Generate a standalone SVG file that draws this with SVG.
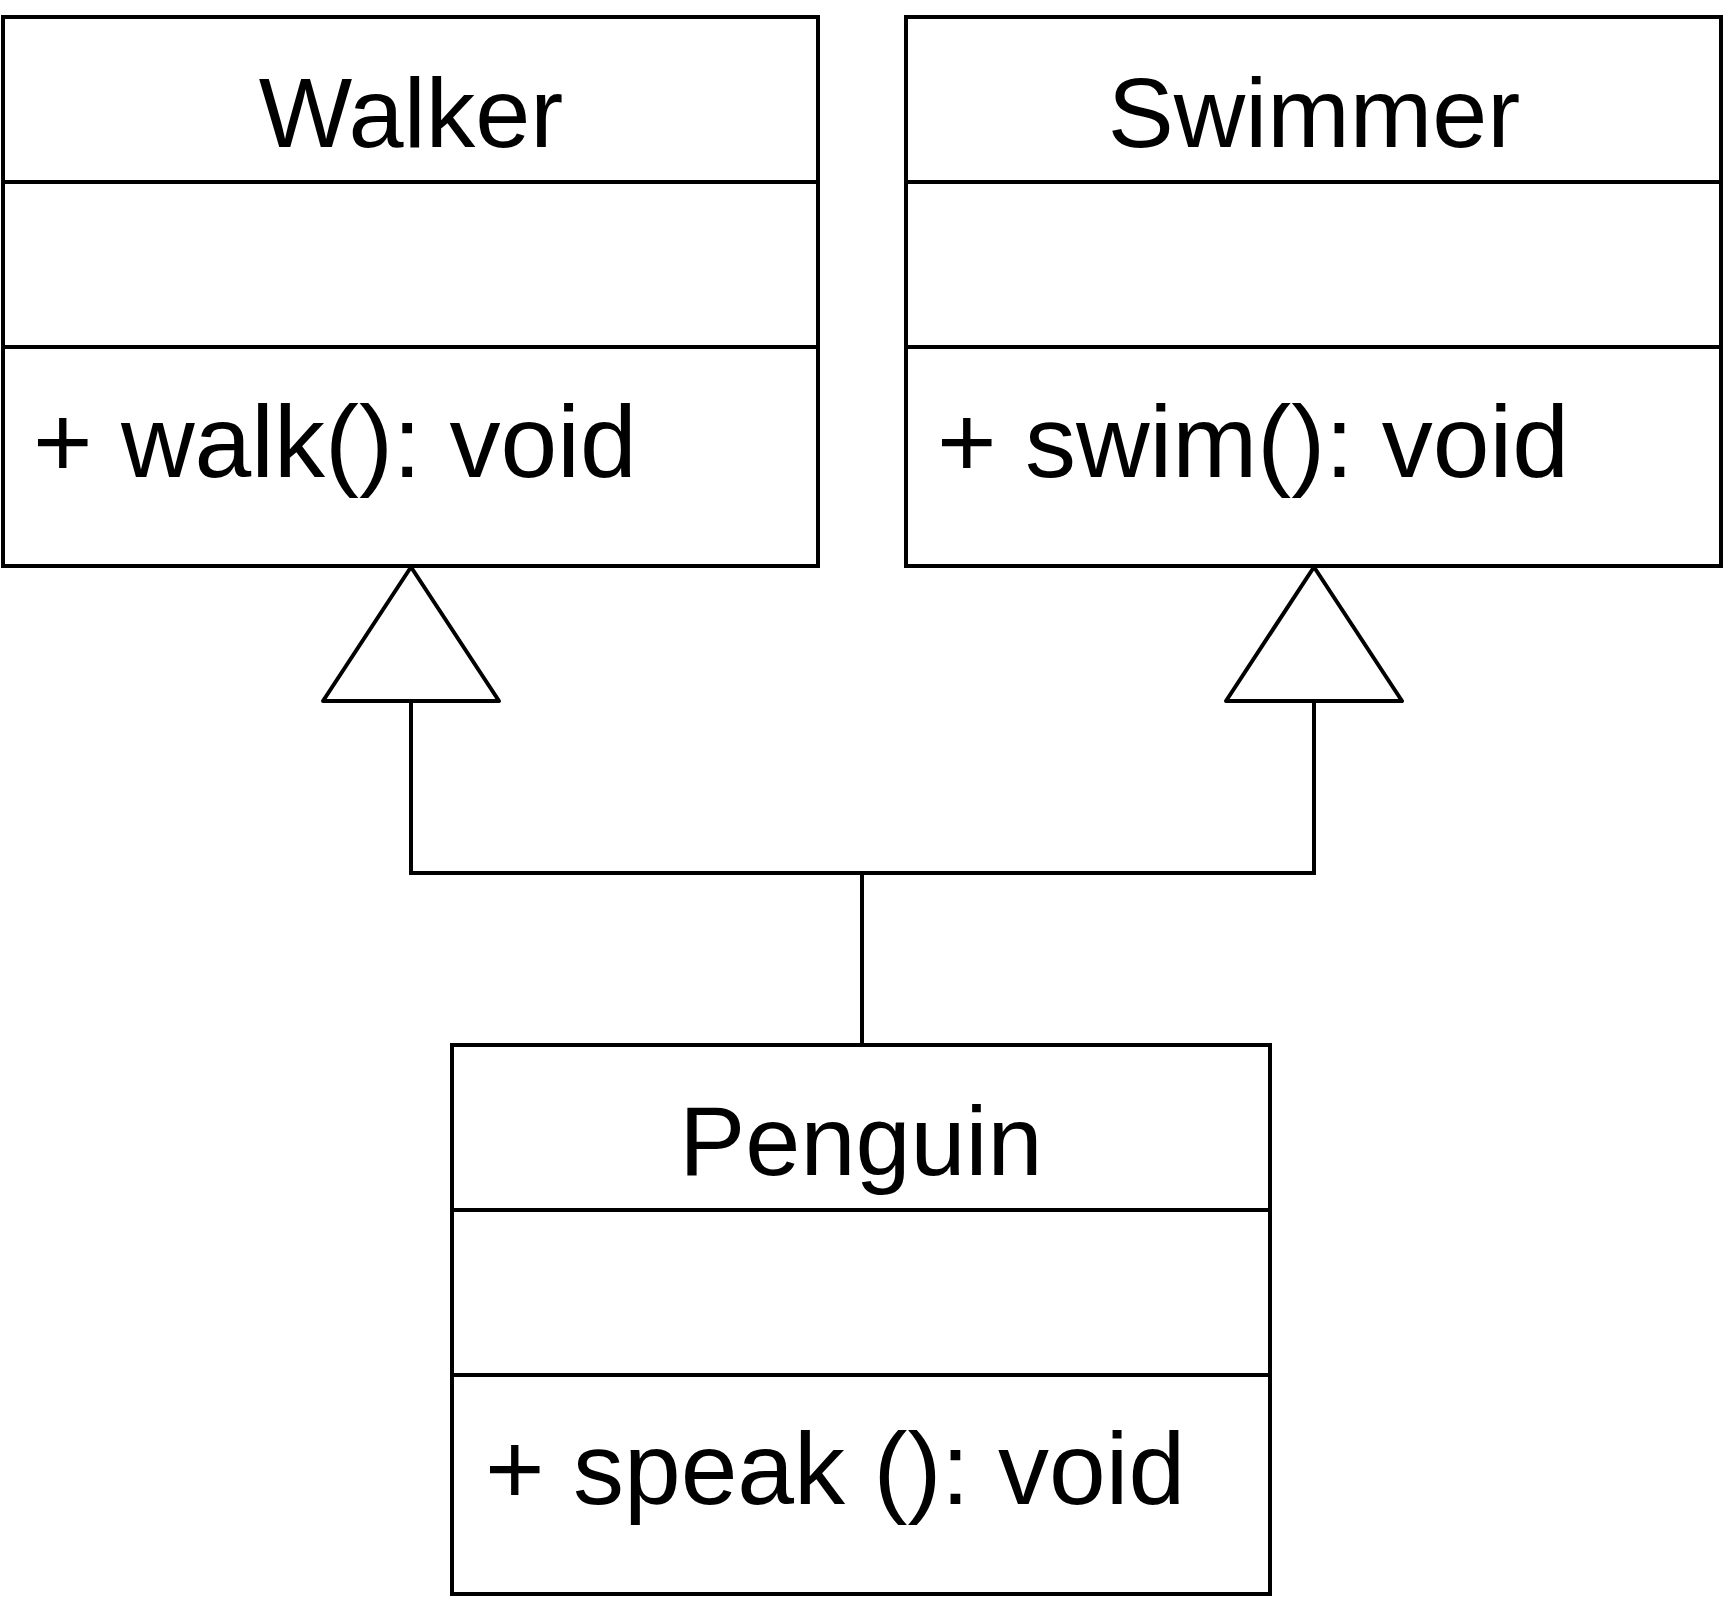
<svg xmlns="http://www.w3.org/2000/svg" width="1728" height="1599" viewBox="0 0 1728 1599">
<style>
.box{fill:#fff;stroke:#000;stroke-width:4}
.sep{stroke:#000;stroke-width:4}
.conn{stroke:#000;stroke-width:4;fill:none;stroke-linecap:square}
.tri{fill:#fff;stroke:#000;stroke-width:4;stroke-linejoin:round}
.t{font-family:"Liberation Sans",Arial,sans-serif;font-size:102px;fill:#000}
.h{font-size:99px;text-anchor:middle}
</style>
<rect width="1728" height="1599" fill="#fff"/>
<g id="connectors">
<line class="conn" x1="411" y1="701" x2="411" y2="873"/>
<line class="conn" x1="1314" y1="701" x2="1314" y2="873"/>
<line class="conn" x1="411" y1="873" x2="1314" y2="873"/>
<line class="conn" x1="862" y1="873" x2="862" y2="1045"/>
<polygon class="tri" points="411,567 499,701 323,701"/>
<polygon class="tri" points="1314,567 1402,701 1226,701"/>
</g>
<g id="walker">
<rect class="box" x="3" y="17" width="815" height="549"/>
<line class="sep" x1="3" y1="182" x2="818" y2="182"/>
<line class="sep" x1="3" y1="347" x2="818" y2="347"/>
<text class="t h" x="411" y="147">Walker</text>
<text class="t" x="33" y="477">+ walk(): void</text>
</g>
<g id="swimmer">
<rect class="box" x="906" y="17" width="815" height="549"/>
<line class="sep" x1="906" y1="182" x2="1721" y2="182"/>
<line class="sep" x1="906" y1="347" x2="1721" y2="347"/>
<text class="t h" x="1314" y="147">Swimmer</text>
<text class="t" x="937" y="477">+ swim(): void</text>
</g>
<g id="penguin">
<rect class="box" x="452" y="1045" width="818" height="549"/>
<line class="sep" x1="452" y1="1210" x2="1270" y2="1210"/>
<line class="sep" x1="452" y1="1375" x2="1270" y2="1375"/>
<text class="t h" x="861" y="1175">Penguin</text>
<text class="t" x="485" y="1504">+ speak (): void</text>
</g>
</svg>
